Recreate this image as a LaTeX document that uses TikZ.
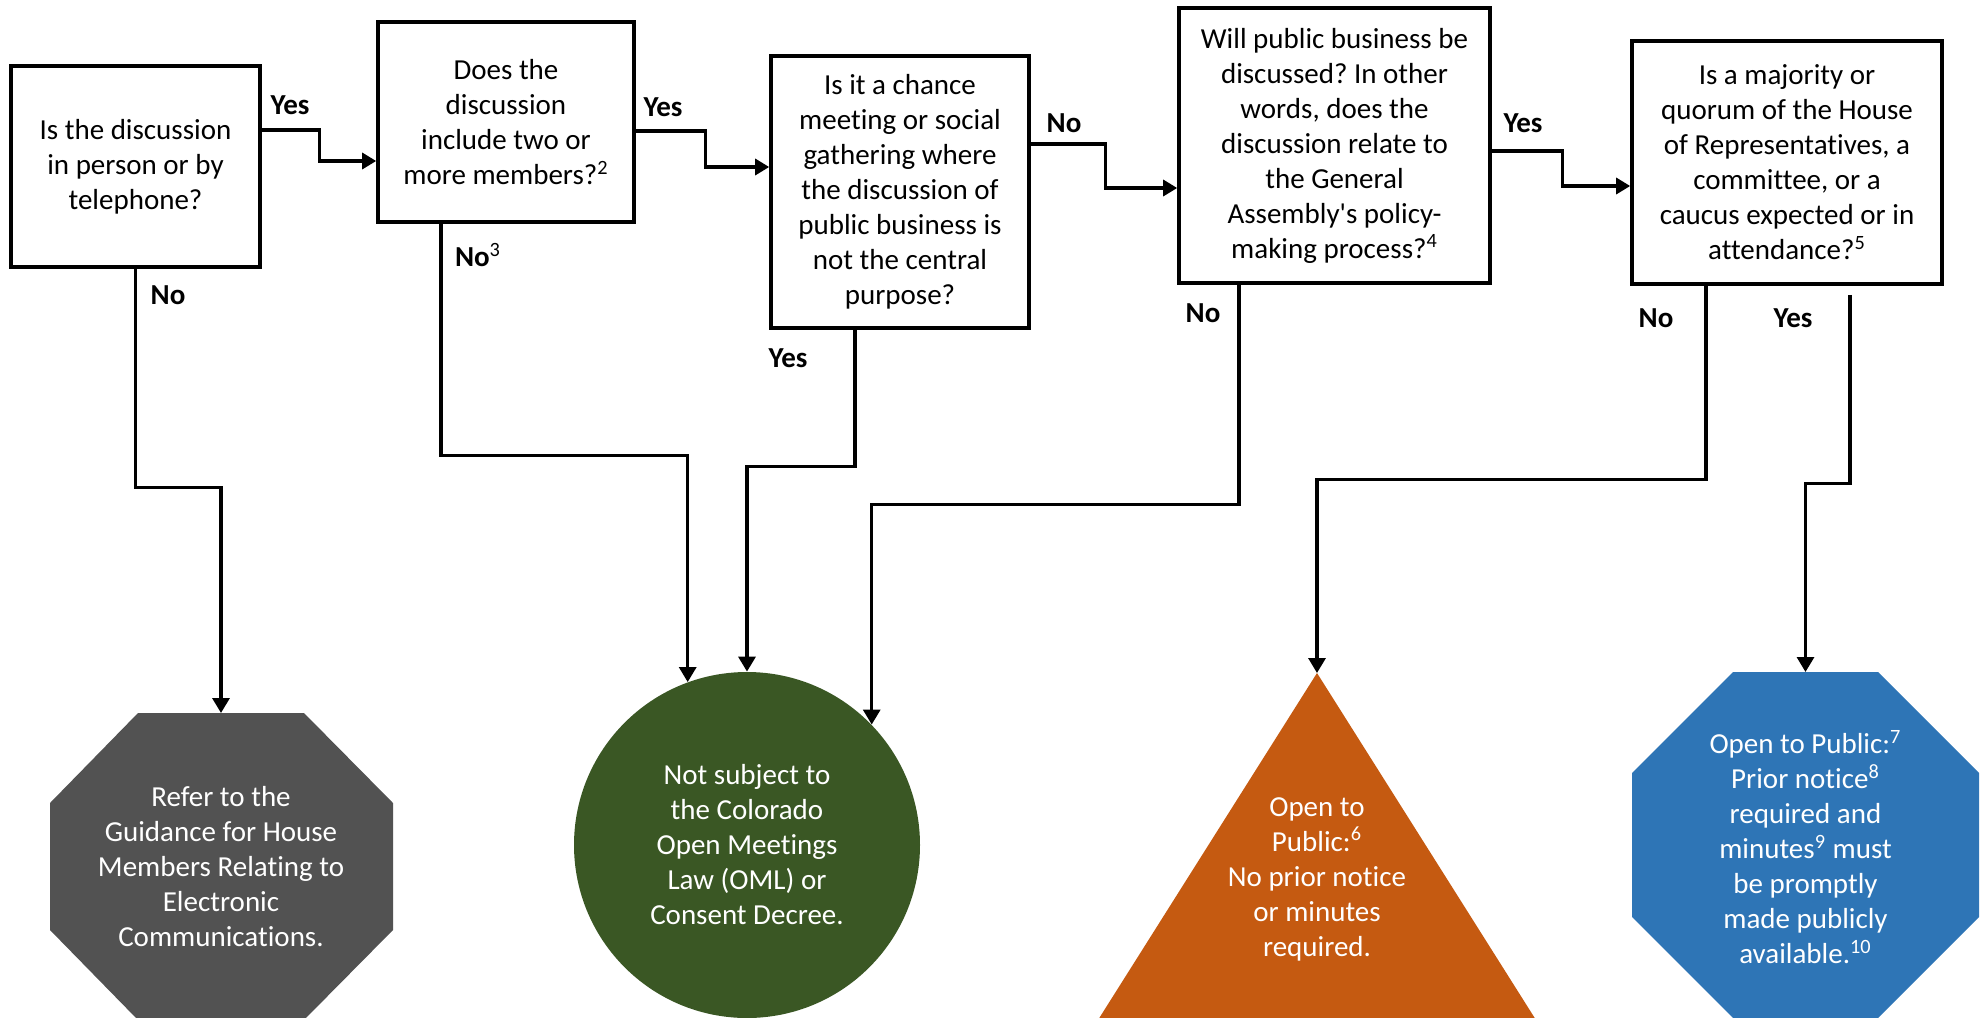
\documentclass[tikz,border=0pt]{standalone}
\usepackage{fontspec}
\setmainfont{Carlito}[Ligatures={TeX,NoCommon}]
\usetikzlibrary{arrows.meta}
\definecolor{octgray}{HTML}{525252}
\definecolor{lawgreen}{HTML}{3A5724}
\definecolor{openorange}{HTML}{C55A11}
\definecolor{openblue}{HTML}{2E75B6}
\frenchspacing

\begin{document}
\begin{tikzpicture}[x=0.5pt,y=-0.5pt,
  font=\fontsize{14.5}{17.5}\selectfont,
  qbox/.style={draw,line width=1.8pt,align=center,inner sep=0pt},
  flow/.style={line width=1.6pt,-{Triangle[length=7pt,width=8pt]}},
  drop/.style={line width=1.6pt,-{Triangle[length=7.5pt,width=8.5pt]}},
  ans/.style={font=\fontsize{14.5}{17.5}\selectfont\bfseries},
  endtext/.style={text=white,align=center,inner sep=0pt}]
\useasboundingbox (0,0) rectangle (1988,1018);

% questions
\node[qbox,minimum width=124.5pt,minimum height=100.5pt] (b1) at (135.5,166.5)
  {Is the discussion\\in person or by\\telephone?};
\node[qbox,minimum width=128pt,minimum height=100pt] (b2) at (506,122)
  {Does the\\discussion\\include two or\\more members?\textsuperscript{2}};
\node[qbox,minimum width=129pt,minimum height=136pt] (b3) at (900,192)
  {Is it a chance\\meeting or social\\gathering where\\the discussion of\\public business is\\not the central\\purpose?};
\node[qbox,minimum width=155.5pt,minimum height=137.5pt] (b4) at (1334.5,145.5)
  {Will public business be\\discussed? In other\\words, does the\\discussion relate to\\the General\\Assembly\textquotesingle s policy-\\making process?\textsuperscript{4}};
\node[qbox,minimum width=155pt,minimum height=121.5pt] (b5) at (1787,162.5)
  {Is a majority or\\quorum of the House\\of Representatives, a\\committee, or a\\caucus expected or in\\attendance?\textsuperscript{5}};

% outcomes
\fill[octgray] (138,713) -- (304,713) -- (393,803) -- (393,930) -- (304,1020)
  -- (138,1020) -- (50,930) -- (50,803) -- cycle;
\coordinate (gtop) at (221,713);
\node[endtext] (guide) at (221,867)
  {Refer to the\\Guidance for House\\Members Relating to\\Electronic\\Communications.};

\node[circle,fill=lawgreen,minimum size=173pt,endtext] (notsub) at (747,845)
  {Not subject to\\the Colorado\\Open Meetings\\Law (OML) or\\Consent Decree.};

\fill[openorange] (1317,673) -- (1536,1020) -- (1098,1020) -- cycle;
\coordinate (ttop) at (1317,673);
\node[endtext] (open6) at (1317,879)
  {Open to\\Public:\textsuperscript{6}\\No prior notice\\or minutes\\required.};

\fill[openblue] (1733,672) -- (1878,672) -- (1979,773) -- (1979,917) -- (1878,1018)
  -- (1733,1018) -- (1632,917) -- (1632,773) -- cycle;
\coordinate (otop) at (1805.5,672);
\node[endtext] (open7) at (1805.5,847)
  {Open to Public:\textsuperscript{7}\\Prior notice\textsuperscript{8}\\required and\\minutes\textsuperscript{9} must\\be promptly\\made publicly\\available.\textsuperscript{10}};

% yes/no flow along the top
\draw[flow] ([yshift=18.25pt]b1.east) -- ++(58,0) |- ([yshift=-19.5pt]b2.west);
\draw[flow] ([yshift=-4.5pt]b2.east) -- ++(70,0) |- ([yshift=12.5pt]b3.west);
\draw[flow] ([yshift=24pt]b3.east) -- ++(75,0) |- ([yshift=-21.25pt]b4.west);
\draw[flow] ([yshift=-2.75pt]b4.east) -- ++(71,0) |- ([yshift=-11.75pt]b5.west);
\node[ans] (yes1) at (290,105) {Yes};
\node[ans] (yes2) at (663,107) {Yes};
\node[ans] (no3) at (1064,123) {No};
\node[ans] (yes4) at (1523,123) {Yes};

% drops to the outcomes
\draw[drop] (b1.south) -- ++(0,219) -| (gtop);
\draw[drop] ([xshift=-32.5pt]b2.south) -- ++(0,232) -| (notsub.110.3);
\draw[drop] ([xshift=-22.5pt]b3.south) -- ++(0,137) -| (notsub.north);
\draw[drop] ([xshift=-47.75pt]b4.south) -- ++(0,220) -| (notsub.44.7);
\draw[drop] ([xshift=-40.5pt]b5.south) -- ++(0,194) -| (ttop);
\draw[drop] ([xshift=31.5pt,yshift=-4.5pt]b5.south) -- ++(0,189) -| (otop);
\node[ans] (no1) at (168,295) {No};
\node[ans] (no2) at (478,255) {No\textsuperscript{\mdseries 3}};
\node[ans] (yes3) at (788,358) {Yes};
\node[ans] (no4) at (1203,313) {No};
\node[ans] (no5) at (1656,318) {No};
\node[ans] (yes5) at (1793,318) {Yes};
\end{tikzpicture}
\end{document}
